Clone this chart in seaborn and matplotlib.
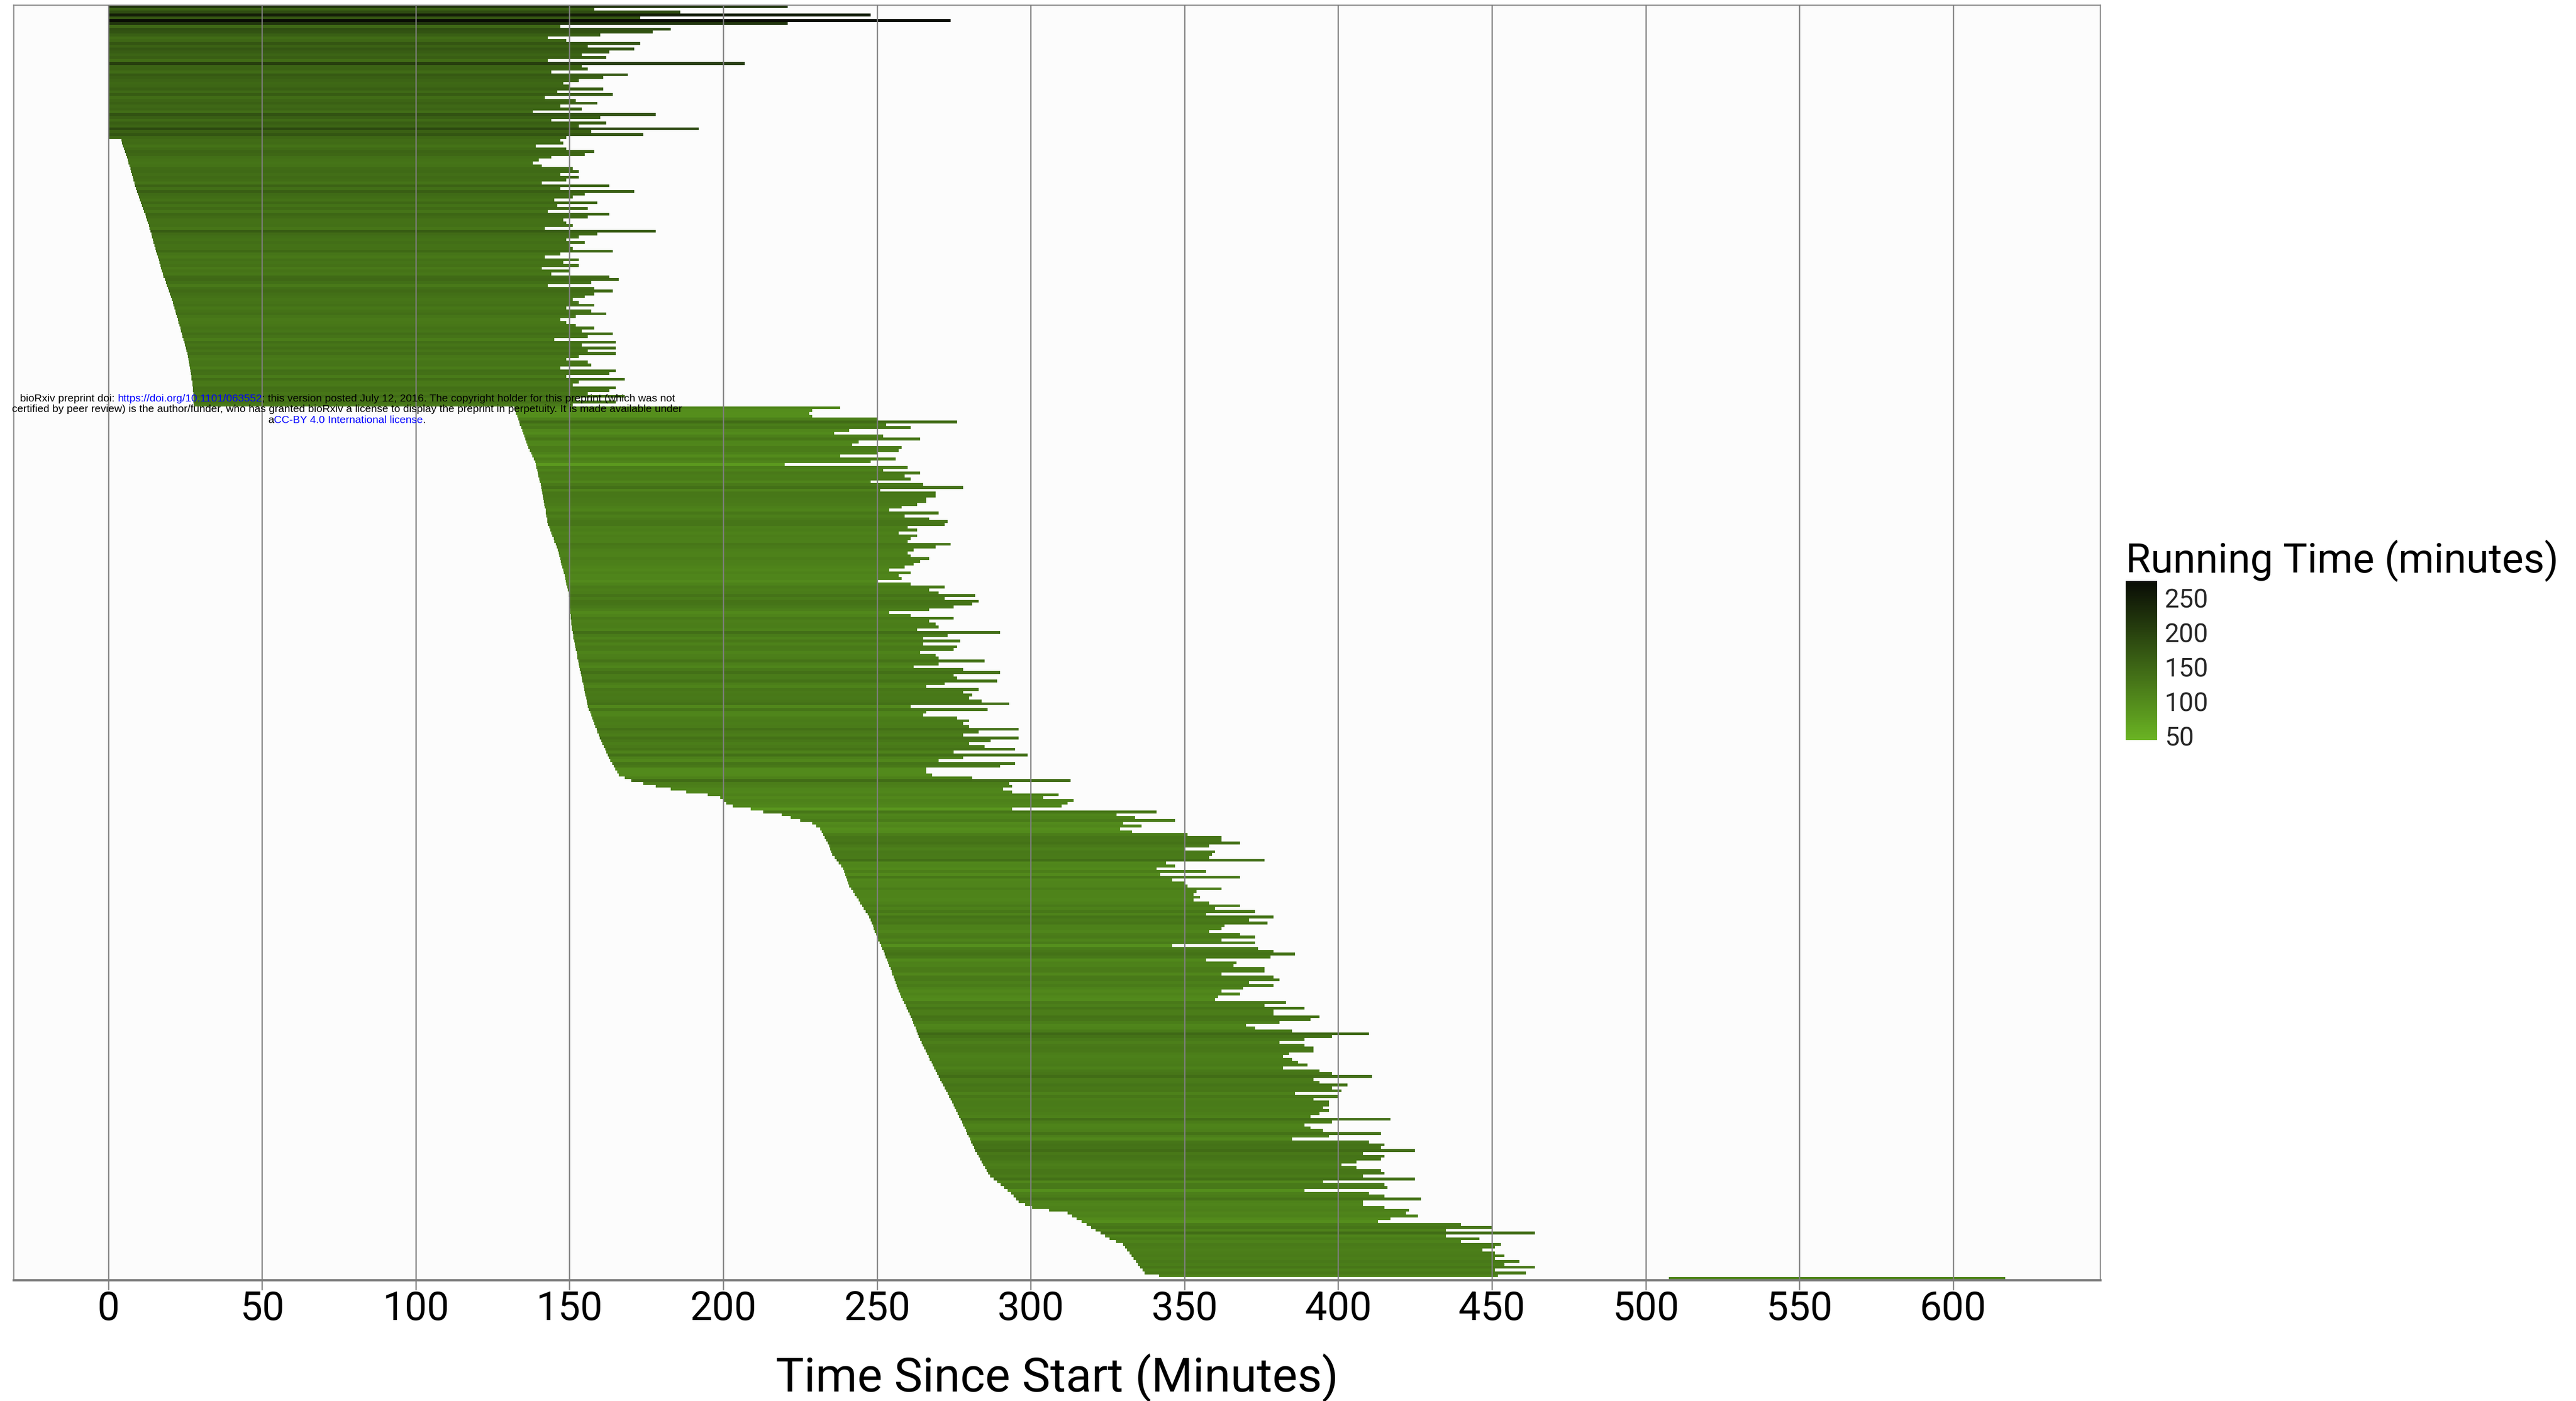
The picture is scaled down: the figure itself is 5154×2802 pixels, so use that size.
import matplotlib
matplotlib.use("Agg")
import matplotlib.pyplot as plt
import numpy as np
import pandas as pd
import seaborn as sns
from matplotlib.colors import Normalize
from matplotlib.cm import ScalarMappable

# ---------------- data: minutes since start, one row per job, top row first ----------------
# batch A: jobs launched at time 0
start_a = [0, 0, 0, 0, 0, 0, 0, 0, 0, 0,
           0, 0, 0, 0, 0, 0, 0, 0, 0, 0,
           0, 0, 0, 0, 0, 0, 0, 0, 0, 0,
           0, 0, 0, 0, 0, 0, 0, 0, 0, 0,
           0, 0, 0, 0, 0, 0, 0]
end_a = [221, 158, 186, 248, 173, 274, 221, 147, 183, 177,
         160, 143, 149, 173, 156, 171, 163, 154, 162, 143,
         207, 154, 156, 144, 169, 161, 153, 148, 150, 161,
         146, 164, 142, 152, 159, 147, 154, 138, 178, 160,
         144, 162, 153, 192, 157, 174, 149]

# batch B: staggered launches during the first half hour
start_b = [4.2, 4.5, 4.8, 5.1, 5.4, 5.7, 6.0, 6.3, 6.6,
           6.9, 7.2, 7.4, 7.7, 8.0, 8.2, 8.5, 8.7, 9.0,
           9.3, 9.6, 10.0, 10.3, 10.6, 11.0, 11.3, 11.6, 12.0, 12.3,
           12.6, 12.9, 13.2, 13.4, 13.7, 14.0, 14.2, 14.5, 14.7, 15.0,
           15.3, 15.5, 15.8, 16.1, 16.4, 16.6, 16.9, 17.1, 17.4,
           17.7, 18.0, 18.4, 18.7, 19.1, 19.4, 19.7, 20.0, 20.4, 20.7,
           21.0, 21.2, 21.5, 21.8, 22.0, 22.3, 22.6, 22.8, 23.1,
           23.4, 23.6, 23.9, 24.1, 24.4, 24.7, 24.9, 25.2, 25.4, 25.7,
           25.9, 26.0, 26.2, 26.4, 26.5, 26.7, 26.8, 27.0, 27.1, 27.3, 27.4,
           27.5, 27.5, 27.6, 27.6, 27.7, 27.7, 27.8]
end_b = [147, 148, 139, 149, 158, 155, 144, 140, 138, 141,
         151, 153, 147, 153, 149, 141, 163, 147, 171, 155,
         151, 145, 159, 146, 156, 143, 163, 156, 148, 149,
         151, 142, 178, 159, 153, 149, 155, 150, 151, 164,
         147, 142, 153, 148, 153, 141, 150, 144, 163, 166,
         157, 143, 158,
         164, 158, 155, 151, 153, 158, 149, 157, 162, 152,
         147, 149, 152, 158, 154, 164, 156, 145, 165, 154,
         165, 156, 165, 153, 149, 156, 157, 147, 165, 163,
         149, 168, 153, 151, 165, 163, 156, 168, 152, 165,
         151]

# batch C: second wave
start_c = [132.0, 132.3, 132.6, 133.0, 133.3, 133.6, 133.9, 134.3, 134.6, 134.9, 135.3, 135.6, 135.9, 136.3, 136.6,
           137.0, 137.5, 137.9, 138.4, 138.8,
           139.0, 139.2, 139.5, 139.7, 139.9, 140.1, 140.3, 140.6, 140.8, 141.0,
           141.2, 141.3, 141.5, 141.7, 141.8, 142.0, 142.2, 142.3, 142.5, 142.7, 142.8, 143.0,
           143.4, 143.7, 144.1, 144.4, 144.8, 145.1, 145.5, 145.8, 146.2, 146.5,
           146.7, 147.0, 147.2, 147.4, 147.7, 147.9, 148.1, 148.4, 148.6, 148.8, 149.0, 149.3, 149.5, 149.7,
           149.8, 149.9, 150.0, 150.0, 150.1, 150.2, 150.3, 150.4, 150.4, 150.5, 150.6, 150.7, 150.8,
           151.0, 151.2, 151.3, 151.5, 151.7, 151.9, 152.1, 152.3, 152.5, 152.6, 152.8, 153.0,
           153.2, 153.4, 153.6, 153.8, 154.0, 154.2, 154.4, 154.6, 154.8, 155.0, 155.2, 155.4, 155.6, 155.8, 156.0,
           156.3, 156.7, 157.0, 157.4, 157.7, 158.1, 158.4, 158.8, 159.1, 159.5,
           159.9, 160.3, 160.7, 161.2, 161.6, 162.0, 162.4, 162.8,
           163.3, 163.9, 164.4, 164.9, 165.5, 166.0,
           168.0]
end_c = [238, 229, 228, 229, 250, 276, 253, 261, 241, 236,
         252, 264, 244, 242, 258, 257, 250, 238, 256, 248,
         220, 260, 252, 264, 259, 261, 248, 265, 278, 251,
         269, 269, 266, 266, 263, 258, 254, 270, 259, 267,
         273, 272, 260, 263, 257, 263, 261, 260, 274, 269,
         262, 260, 261, 267, 264, 262, 259, 254, 261, 257,
         258, 250, 261, 272, 267, 270, 282, 272, 283, 281,
         275, 267, 254, 261, 275, 267, 269, 270, 263, 290,
         273, 265, 277, 265, 276, 275, 264, 269, 270, 285,
         270, 262, 278, 290, 275, 276, 289, 272, 266, 283,
         278, 281, 280, 284, 293, 261, 286, 266, 265, 276,
         280, 278, 280, 296, 283, 278, 296, 287, 280, 285,
         295, 275, 299, 278, 270, 295, 290, 266, 266, 268,
         281]

# batch D: short transition
start_d = [170, 174, 178, 183, 188, 195, 199, 200, 201, 203, 209, 213, 219, 222, 225]
end_d = [313, 293, 294, 291, 294, 309, 304, 314, 312, 310, 294, 341, 328, 334, 347]

# batch E: third wave
start_e = [229.0, 230.2, 231.5,
           232.0, 232.5, 233.0, 233.5,
           234.0, 234.4, 234.8, 235.1, 235.5,
           236.2, 236.9, 237.6, 238.3, 239.0,
           239.3, 239.7, 240.0, 240.3, 240.7, 241.0,
           241.6, 242.2, 242.8, 243.4, 244.0, 244.6,
           245.2, 245.7, 246.3, 246.9, 247.4, 248.0,
           248.3, 248.7, 249.0, 249.3, 249.7, 250.0,
           250.4, 250.8, 251.3, 251.7, 252.1, 252.5, 252.9, 253.3, 253.7,
           254.0, 254.4, 254.7, 255.0, 255.4, 255.7, 256.0, 256.4, 256.7, 257.0,
           257.5, 257.9, 258.4, 258.8, 259.3, 259.7, 260.2, 260.6,
           261.0, 261.4, 261.8, 262.1, 262.5, 262.9, 263.2, 263.6, 264.0,
           264.5, 264.9, 265.4, 265.9, 266.3, 266.8, 267.2, 267.7, 268.1, 268.6,
           269.1, 269.6, 270.1, 270.6, 271.0, 271.5, 272.0, 272.5, 273.0,
           273.5, 273.9, 274.4, 274.9, 275.3, 275.8, 276.3, 276.8, 277.2, 277.7,
           278.1, 278.5, 279.0, 279.4, 279.8, 280.3, 280.7, 281.1, 281.6, 282.0,
           282.5, 283.1, 283.6, 284.1, 284.6, 285.2, 285.7, 286.2, 286.8,
           287.9, 289.0, 290.2, 291.3, 292.5, 293.6,
           294.4, 295.2, 296.0,
           298.2, 300.5,
           306.0, 312.0,
           313.5, 315.0, 316.6, 318.1, 319.6, 321.1, 322.7, 324.2, 325.7,
           327.8, 330.0,
           330.7, 331.4, 332.1, 332.8, 333.5, 334.2, 334.9, 335.6, 336.3, 337.0,
           341.7]
end_e = [330, 336, 329, 333, 351, 362, 362, 368, 358, 350,
         360, 359, 358, 376, 344, 347, 341, 357, 342, 368,
         346, 350, 351, 362, 354, 353, 355, 353, 358, 368,
         360, 373, 357, 379, 371, 377, 363, 362, 358, 368,
         373, 362, 373, 346, 374, 379, 386, 378, 357, 367,
         366, 376, 376, 362, 379, 381, 371, 379, 369, 362,
         368, 361, 360, 383, 376, 389, 379, 379, 394, 391,
         381, 370, 373, 385, 410, 398, 389, 381, 389, 392,
         392, 384, 382, 385, 387, 390, 382, 394, 398, 411,
         392, 394, 403, 398, 401, 386, 400, 392, 397, 397,
         395, 397, 394, 391, 417, 398, 389, 391, 395, 414,
         397, 385, 410, 415, 414, 425, 408, 415, 414, 406,
         401, 406, 414, 415, 408, 425, 395, 415, 416, 389,
         410, 415, 427, 408, 408, 415, 423, 422, 426, 417,
         413, 440, 450, 435, 464, 435, 446, 440, 453, 451,
         447, 451, 454, 451, 459, 454, 464, 451, 461, 452]

# straggler job
start_f = [507.5]
end_f = [617.0]

x_ticks = [0, 50, 100, 150, 200, 250, 300, 350, 400, 450, 500, 550, 600]
legend_ticks = [50, 100, 150, 200, 250]
legend_limits = [44.5, 274.5]
x_title = "Time Since Start (Minutes)"
legend_title = "Running Time (minutes)"

# ---------------- build table ----------------
pairs = [(start_a, end_a), (start_b, end_b), (start_c, end_c),
         (start_d, end_d), (start_e, end_e), (start_f, end_f)]
for s, e in pairs:
    if len(s) != len(e):
        raise ValueError(f"length mismatch {len(s)} vs {len(e)}")
starts = [v for s, _ in pairs for v in s]
ends = [v for _, e in pairs for v in e]
df = pd.DataFrame({"start": starts, "end": ends})
df["runtime"] = df["end"] - df["start"]
df["row"] = np.arange(len(df))

# ---------------- style ----------------
sns.set_theme(style="white")
plt.rcParams["font.family"] = ["Roboto", "DejaVu Sans"]

W, H, DPI = 5154, 2802, 300
fig = plt.figure(figsize=(W / DPI, H / DPI), dpi=DPI)
fig.patch.set_facecolor("white")

ax = fig.add_axes([27 / W, 1 - 2560 / H, (4202 - 27) / W, (2560 - 10) / H])
ax.set_facecolor("#fcfcfc")

cmap = sns.blend_palette(["#6ab323", "#090c05"], as_cmap=True)
norm = Normalize(vmin=legend_limits[0], vmax=legend_limits[1])
colors = cmap(norm(df["runtime"].to_numpy()))

ax.barh(df["row"], df["runtime"], left=df["start"], height=1.0,
        color=colors, linewidth=0, zorder=1)

lo, hi = df["start"].min(), df["end"].max()
span = hi - lo
ax.set_xlim(lo - 0.05 * span, hi + 0.05 * span)
ax.set_ylim(len(df) - 0.5, -0.5)

ax.set_xticks(x_ticks)
ax.set_yticks([])
ax.set_axisbelow(False)
ax.grid(axis="x", color="#7f7f7f", linewidth=0.6)
ax.grid(axis="y", visible=False)
ax.tick_params(axis="x", bottom=True, length=4.8, width=0.6, color="#7f7f7f",
               pad=0, labelsize=19, labelcolor="black")
ax.set_xlabel(x_title, fontsize=22.8, labelpad=12, color="black")
for sp in ax.spines.values():
    sp.set_color("#8f8f8f")
    sp.set_linewidth(0.6)
ax.spines["bottom"].set_linewidth(1.1)
ax.spines["bottom"].set_color("#7a7a7a")

# ---------------- colour bar legend ----------------
cax = fig.add_axes([4253 / W, 1 - 1480 / H, 63 / W, 318 / H])
sm = ScalarMappable(norm=norm, cmap=cmap)
cb = fig.colorbar(sm, cax=cax, ticks=legend_ticks)
cb.outline.set_visible(False)
cax.tick_params(axis="y", direction="in", left=True, right=True,
                labelleft=False, labelright=True, length=2.4, width=0.6,
                color="white", labelsize=12.5, pad=3.6)
fig.text(4253 / W, 1 - 1145 / H, legend_title, fontsize=19.5,
         ha="left", va="baseline", color="black")

# ---------------- preprint notice ----------------
wm_font = dict(fontsize=5.15, family=["Liberation Sans", "DejaVu Sans"], zorder=5)

def chain(first_xy, pieces):
    prev = None
    for txt, col in pieces:
        if prev is None:
            prev = fig.text(first_xy[0] / W, 1 - first_xy[1] / H, txt, color=col,
                            ha="left", va="center", **wm_font)
        else:
            prev = ax.annotate(txt, xy=(1, 0.5), xycoords=prev, ha="left", va="center",
                               color=col, annotation_clip=False, **wm_font)

chain((40, 797), [("bioRxiv preprint doi: ", "black"),
                  ("https://doi.org/10.1101/063552", "#0000ff"),
                  ("; this version posted July 12, 2016. The copyright holder for this preprint (which was not", "black")])
chain((24, 819), [("certified by peer review) is the author/funder, who has granted bioRxiv a license to display the preprint in perpetuity. It is made available under", "black")])
chain((536, 840), [("a", "black"), ("CC-BY 4.0 International license", "#0000ff"), (".", "black")])

fig.savefig("out.png", dpi=DPI, facecolor="white")
